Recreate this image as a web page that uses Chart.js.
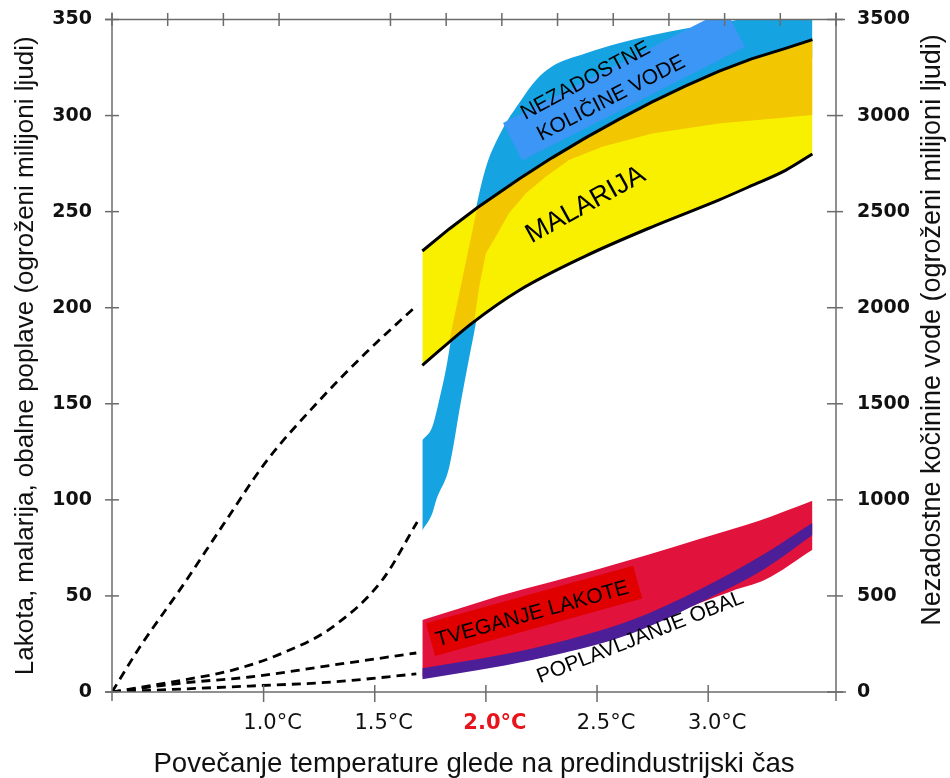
<!DOCTYPE html>
<html><head><meta charset="utf-8">
<script src="https://cdn.jsdelivr.net/npm/chart.js@4.4.1/dist/chart.umd.min.js"></script>
<style>html,body{margin:0;padding:0;background:#fff;}canvas{display:block;}</style>
</head><body>
<canvas id="c" width="950" height="778"></canvas>
<script>
// ---- tick labels ----
const tempTicks = [1.0, 1.5, 2.0, 2.5, 3.0];
const leftTicks = [0, 50, 100, 150, 200, 250, 300, 350];
const rightTicks = [0, 500, 1000, 1500, 2000, 2500, 3000, 3500];
const topTicks = [0, 1, 2, 3, 5, 6, 7, 8, 9, 10, 11, 12, 13];

// ---- malaria (yellow band with black edges) ----
const malariaUpperT = [1.714, 1.835, 1.961, 2.149, 2.297, 2.450, 2.598, 2.746, 2.899, 3.047, 3.195, 3.348, 3.469];
const malariaUpperV = [229.5, 241, 252, 267, 278, 288.5, 298, 307, 315.5, 323, 329.5, 335, 339.5];
const malariaLowerT = [1.714, 1.938, 2.149, 2.450, 2.746, 3.047, 3.195, 3.348, 3.469];
const malariaLowerV = [170, 192, 209, 227, 242, 256, 263.5, 271.5, 280];
// darker (orange) part of the malaria band
const orangeTopT = [1.835, 1.961, 2.149, 2.297, 2.450, 2.598, 2.746, 2.899, 3.047, 3.195, 3.348, 3.469];
const orangeTopV = [182.5, 252, 267, 278, 288.5, 298, 307, 315.5, 323, 329.5, 335, 339.5];
const orangeBottomT = [1.835, 1.947, 1.970, 2.000, 2.045, 2.104, 2.179, 2.269, 2.374, 2.523, 2.748, 3.047, 3.469];
const orangeBottomV = [182.5, 192.6, 211, 228.3, 237, 249.1, 259.5, 268.2, 276.9, 283.8, 290.7, 295.9, 300.3];

// ---- water shortage (blue band, right axis /10) ----
const waterTopT = [1.714, 1.759, 1.790, 1.822, 1.844, 1.902, 1.961, 2.001, 2.073, 2.149, 2.226, 2.297, 2.450, 2.598, 2.746, 2.899, 3.047, 3.168, 3.469];
const waterTopV = [131, 138, 152, 169, 184, 220, 254.7, 273.4, 292.5, 306.4, 318.5, 325.5, 332.4, 337.6, 341.8, 345.3, 347.9, 350.5, 353];
const waterBottomT = [1.714, 1.759, 1.777, 1.835, 1.889, 1.947, 2.015, 2.149, 2.450, 2.746, 3.047, 3.469];
const waterBottomV = [84, 93, 100, 117, 152, 187, 225, 252, 278, 298, 313, 330];

// ---- hunger risk (red band) ----
const hungerTopT = [1.714, 1.880, 2.059, 2.284, 2.508, 2.733, 2.957, 3.226, 3.469];
const hungerTopV = [37.5, 43.5, 50, 57, 64, 71.5, 79.5, 89, 99.5];
const hungerBottomT = [1.714, 2.208, 2.656, 2.957, 3.105, 3.258, 3.469];
const hungerBottomV = [8, 17, 31, 46, 52.5, 58.5, 74];

// ---- coastal flooding (purple band) ----
const floodT = [1.714, 2.208, 2.656, 2.957, 3.258, 3.469];
const floodTopV = [12.3, 22.7, 37.5, 53.1, 72.2, 88.1];
const floodBottomV = [6.6, 16.7, 30.5, 46.2, 64.4, 81.7];

// ---- dashed lead-in curves from origin ----
const dashMalariaT = [0.318, 0.444, 0.637, 0.818, 1.012, 1.237, 1.460, 1.691];
const dashMalariaV = [0, 23.5, 55.5, 87, 120, 150, 176.5, 201.4];
const dashWaterT = [0.318, 0.637, 0.861, 1.086, 1.310, 1.534, 1.691];
const dashWaterV = [0, 6.2, 11.4, 20.3, 33.8, 58.3, 88.5];
const dashHungerT = [0.318, 0.637, 0.937, 1.310, 1.687];
const dashHungerV = [0, 4.7, 7.8, 14, 20.3];
const dashFloodT = [0.318, 0.937, 1.310, 1.687];
const dashFloodV = [0, 3.1, 5.2, 9.4];

// ---- in-chart labels ----
const bandLabels = [
  {text: 'NEZADOSTNE', t: 2.449, v: 318.1, angle: -28.3, size: 21},
  {text: 'KOLIČINE VODE', t: 2.564, v: 309.0, angle: -27.3, size: 21},
  {text: 'MALARIJA', t: 2.449, v: 253.5, angle: -29, size: 27},
  {text: 'TVEGANJE LAKOTE', t: 2.209, v: 40.5, angle: -15.5, size: 21},
  {text: 'POPLAVLJANJE OBAL', t: 2.695, v: 28.4, angle: -21.5, size: 21}
];
const labelPatches = [
  {t: 2.621, v: 315.9, w: 250, h: 42, angle: -27, color: '#3b96f6'},
  {t: 2.217, v: 42.2, w: 215, h: 34, angle: -15.5, color: '#e10000'}
];

const COL = {
  blue: '#16a3e2', yellow: '#f9f000', orange: '#f2c600',
  red: '#e1123b', purple: '#4c1e97', axis: '#6b6b6b', text: '#111'
};
const pts = (ts, vs) => ts.map((t, i) => ({x: t, y: vs[i]}));
const FONT = "'Liberation Sans', Arial, sans-serif";

function band(data, color, target, order, mode) {
  return {
    data, borderWidth: 0, borderColor: 'transparent', backgroundColor: color,
    pointRadius: 0, fill: target === null ? false : {target}, order,
    tension: mode === 'straight' ? 0 : 0.4,
    cubicInterpolationMode: mode === 'straight' ? 'default' : 'monotone'
  };
}
function dashed(data) {
  return {data, borderColor: '#000', borderWidth: 2.8, borderDash: [9, 6], pointRadius: 0,
    fill: false, order: 0, cubicInterpolationMode: 'monotone', tension: 0.4};
}

const datasets = [
  {data: pts(malariaUpperT, malariaUpperV), borderColor: '#000', borderWidth: 3, pointRadius: 0,
   backgroundColor: COL.yellow, fill: {target: 1}, order: 4, tension: 0},
  {data: pts(malariaLowerT, malariaLowerV), borderColor: '#000', borderWidth: 3, pointRadius: 0,
   fill: false, order: 4, cubicInterpolationMode: 'monotone', tension: 0.4},
  band(pts(orangeTopT, orangeTopV), COL.orange, 3, 3, 'straight'),
  band(pts(orangeBottomT, orangeBottomV), COL.orange, null, 3, 'straight'),
  band(pts(waterTopT, waterTopV), COL.blue, 5, 5, 'mono'),
  band(pts(waterBottomT, waterBottomV), COL.blue, null, 5, 'mono'),
  band(pts(hungerTopT, hungerTopV), COL.red, 7, 5, 'mono'),
  band(pts(hungerBottomT, hungerBottomV), COL.red, null, 5, 'mono'),
  band(pts(floodT, floodTopV), COL.purple, 9, 4, 'mono'),
  band(pts(floodT, floodBottomV), COL.purple, null, 4, 'mono'),
  dashed(pts(dashMalariaT, dashMalariaV)),
  dashed(pts(dashWaterT, dashWaterV)),
  dashed(pts(dashHungerT, dashHungerV)),
  dashed(pts(dashFloodT, dashFloodV))
];

const overlay = {
  id: 'overlay',
  beforeDatasetsDraw(chart) {
    const {ctx, chartArea: a} = chart;
    const xs = chart.scales.x, ys = chart.scales.y;
    ctx.save();
    ctx.beginPath(); ctx.rect(a.left, a.top, a.right - a.left, a.bottom - a.top); ctx.clip();
    for (const p of labelPatches) {
      ctx.save();
      ctx.translate(xs.getPixelForValue(p.t), ys.getPixelForValue(p.v));
      ctx.rotate(p.angle * Math.PI / 180);
      ctx.fillStyle = p.color;
      ctx.fillRect(-p.w / 2, -p.h / 2, p.w, p.h);
      ctx.restore();
    }
    ctx.restore();
  },
  afterDatasetsDraw(chart) {
    const {ctx, chartArea: a} = chart;
    const xs = chart.scales.x, ys = chart.scales.y, x2 = chart.scales.x2, y2 = chart.scales.y2;
    ctx.save();
    ctx.fillStyle = '#000';
    ctx.textAlign = 'center'; ctx.textBaseline = 'middle';
    for (const l of bandLabels) {
      ctx.save();
      ctx.translate(xs.getPixelForValue(l.t), ys.getPixelForValue(l.v));
      ctx.rotate(l.angle * Math.PI / 180);
      ctx.font = l.size + 'px ' + FONT;
      ctx.fillText(l.text, 0, 0);
      ctx.restore();
    }
    ctx.strokeStyle = COL.axis; ctx.lineWidth = 1.5;
    const seg = (x1, y1, xx, yy) => { ctx.beginPath(); ctx.moveTo(x1, y1); ctx.lineTo(xx, yy); ctx.stroke(); };
    seg(a.left, a.top - 7, a.left, a.bottom + 9);
    seg(a.right, a.top - 7, a.right, a.bottom + 9);
    seg(a.left - 7, a.top, a.right + 9, a.top);
    seg(a.left - 7, a.bottom, a.right + 10, a.bottom);
    for (const v of leftTicks) { const y = ys.getPixelForValue(v); seg(a.left - 7, y, a.left + 7, y); }
    for (const v of rightTicks) { const y = y2.getPixelForValue(v); seg(a.right - 9, y, a.right + 7, y); }
    for (const v of tempTicks) { const x = xs.getPixelForValue(v); seg(x, a.bottom - 7, x, a.bottom + 10); }
    for (const v of topTicks) { const x = x2.getPixelForValue(v); seg(x, a.top - 6.5, x, a.top + 6.5); }
    ctx.fillStyle = COL.text;
    ctx.font = '27px ' + FONT;
    ctx.translate(a.right + 97, 330);
    ctx.rotate(-Math.PI / 2);
    ctx.fillText('Nezadostne kočinine vode (ogroženi milijoni ljudi)', 0, 0);
    ctx.restore();
  }
};

const tickFontY = {family: "'DejaVu Sans', sans-serif", size: 19, weight: 'bold'};
const fixWidth = (w) => (s) => { s.width = w; s.paddingTop = 0; s.paddingBottom = 0; };
const fixHeight = (h) => (s) => { s.height = h; s.paddingLeft = 0; s.paddingRight = 0; };

new Chart(document.getElementById('c'), {
  type: 'line',
  data: {datasets},
  plugins: [overlay],
  options: {
    responsive: false, animation: false, devicePixelRatio: 1,
    layout: {padding: 0},
    plugins: {legend: {display: false}, tooltip: {enabled: false}, filler: {drawTime: 'beforeDatasetsDraw'}},
    scales: {
      x: {
        type: 'linear', position: 'bottom', min: 0.318, max: 3.575,
        afterBuildTicks: (s) => { s.ticks = tempTicks.map(v => ({value: v})); },
        afterFit: fixHeight(86),
        grid: {display: false, drawTicks: false}, border: {display: false},
        ticks: {
          padding: 19, labelOffset: 9, autoSkip: false, maxRotation: 0,
          callback: (v) => Number(v).toFixed(1) + '°C',
          font: (c) => ({family: "'DejaVu Sans', sans-serif", size: 21, weight: (c.tick && c.tick.value === 2) ? 'bold' : 'normal'}),
          color: (c) => (c.tick && c.tick.value === 2) ? '#e8141c' : COL.text
        },
        title: {display: true, text: 'Povečanje temperature glede na predindustrijski čas',
          color: COL.text, font: {family: FONT, size: 27.6}, padding: {top: 0, bottom: -3}}
      },
      x2: {
        type: 'linear', position: 'top', min: 0, max: 13,
        afterBuildTicks: (s) => { s.ticks = topTicks.map(v => ({value: v})); },
        afterFit: fixHeight(19.5),
        grid: {display: false, drawTicks: false}, border: {display: false},
        ticks: {display: false}
      },
      y: {
        type: 'linear', position: 'left', min: 0, max: 350,
        afterBuildTicks: (s) => { s.ticks = leftTicks.map(v => ({value: v})); },
        afterFit: fixWidth(112),
        grid: {display: false, drawTicks: false}, border: {display: false},
        ticks: {padding: 20, font: tickFontY, color: COL.text, callback: (v) => String(v)},
        title: {display: true, text: 'Lakota, malarija, obalne poplave (ogroženi milijoni ljudi)',
          color: COL.text, font: {family: FONT, size: 26}, padding: {top: 10, bottom: 0}}
      },
      y2: {
        type: 'linear', position: 'right', min: 0, max: 3500,
        afterBuildTicks: (s) => { s.ticks = rightTicks.map(v => ({value: v})); },
        afterFit: fixWidth(114),
        grid: {display: false, drawTicks: false}, border: {display: false},
        ticks: {padding: 21, font: tickFontY, color: COL.text, callback: (v) => String(v)}
      }
    }
  }
});
</script>
</body></html>
